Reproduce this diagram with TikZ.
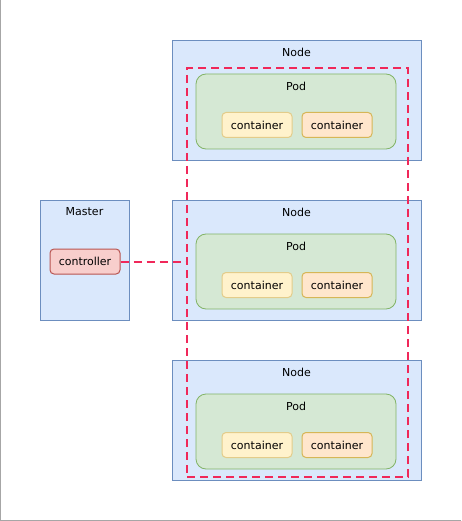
\documentclass[tikz,border=0pt]{standalone}
\usepackage{fontspec}
\setmainfont{DejaVu Sans}
\usetikzlibrary{positioning}

\definecolor{nodefill}{HTML}{DAE8FC}
\definecolor{nodeline}{HTML}{6C8EBF}
\definecolor{podfill}{HTML}{D5E8D4}
\definecolor{podline}{HTML}{82B366}
\definecolor{ctfill}{HTML}{FFF2CC}
\definecolor{ctline}{HTML}{E3CC8A}
\definecolor{ct2fill}{HTML}{FFE6CC}
\definecolor{ct2line}{HTML}{D6B656}
\definecolor{ctrlfill}{HTML}{F8CECC}
\definecolor{ctrlline}{HTML}{B85450}
\definecolor{grpline}{HTML}{F0285A}

\tikzset{
  every node/.style={font=\fontsize{11}{13}\selectfont, inner sep=0pt},
  hostbox/.style={draw=nodeline, fill=nodefill, line width=0.8pt, minimum width=249pt, minimum height=120pt},
  masterbox/.style={hostbox, minimum width=89pt},
  podbox/.style={draw=podline, fill=podfill, line width=0.8pt, rounded corners=10pt, minimum width=200pt, minimum height=75pt},
  ctbox/.style={draw=ctline, fill=ctfill, line width=1pt, rounded corners=4pt, minimum width=70pt, minimum height=25pt, text depth=0pt, yshift=-0.5pt},
  ct2box/.style={ctbox, draw=ct2line, fill=ct2fill},
  ctrlbox/.style={ctbox, draw=ctrlline, fill=ctrlfill},
  grplink/.style={draw=grpline, line width=2pt, dash pattern=on 8pt off 5pt},
  grpbox/.style={grplink, minimum width=221pt, minimum height=409pt},
}

\begin{document}
\begin{tikzpicture}[x=1pt,y=-1pt]
\useasboundingbox (0,0) rectangle (461,521);
\draw[gray!70, line width=1pt] (0.5,0) -- (0.5,520) -- (461,520);

% worker nodes
\foreach \i/\y in {1/100,2/260,3/420}{
  \node[hostbox] (node\i) at (296.5,\y) {};
  \node[below=8pt of node\i.north] (nodelbl\i) {Node};
  \node[podbox] (pod\i) at (296,\y+11.5) {};
  \node[below=8pt of pod\i.north] (podlbl\i) {Pod};
  \node[ctbox] (cta\i) at (257,\y+24.5) {container};
  \node[ct2box] (ctb\i) at (337,\y+24.5) {container};
}

% master
\node[masterbox] (master) at (84.5,260) {};
\node[below=8pt of master.north] (masterlbl) {Master};
\node[ctrlbox] (ctrl) at (85,261) {controller};

% controlled group
\node[grpbox] (grp) at (297.5,272.5) {};
\draw[grplink] (ctrl.east) -- (ctrl.east -| grp.west);
\end{tikzpicture}
\end{document}
